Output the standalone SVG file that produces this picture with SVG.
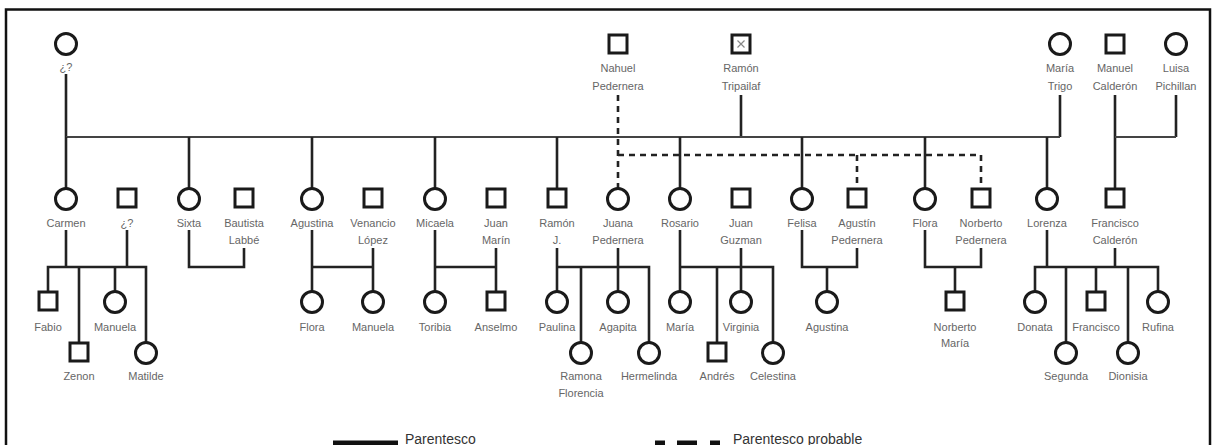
<svg xmlns="http://www.w3.org/2000/svg" width="1214" height="445" viewBox="0 0 1214 445">
<style>
.c{fill:#fff;stroke:#1a1a1a;stroke-width:3}
.s{fill:#fff;stroke:#1a1a1a;stroke-width:3}
.t{font-family:"Liberation Sans",Arial,sans-serif;font-size:11px;fill:#666;text-anchor:middle}
.l{fill:none;stroke:#222;stroke-width:2.6}
.h{fill:none;stroke:#444;stroke-width:2.2}
.d{fill:none;stroke:#222;stroke-width:2.6;stroke-dasharray:6 5}
.lg{font-family:"Liberation Sans",Arial,sans-serif;font-size:14px;fill:#333}
</style>
<rect x="0" y="0" width="1214" height="445" fill="#fff"/>
<path d="M6,450 V9.5 H1210 V450" fill="none" stroke="#111" stroke-width="2.5"/>

<g id="connectors">
  <path class="l" d="M66,74 V137 M1060,95 V137 M741,95 V137 M1115,95 V188 M1176,95 V137"/>
  <path class="h" d="M66,137 H1060 M1115,137 H1176"/>
  <path class="l" d="M66,137 V188 M189,137 V188 M312,137 V188 M435,137 V188 M557,137 V188 M680,137 V188 M802,137 V188 M925,137 V188 M1047,137 V188"/>
  <path class="d" d="M618,95 V188 M618,155 H981 M857,155 V188 M981,155 V188"/>
  <!-- Carmen -->
  <path class="l" d="M66,230 V267 M127,230 V267 M48,291 V267 H146 V342 M79,267 V342 M115,267 V291"/>
  <!-- Sixta -->
  <path class="l" d="M189,230 V267 H244 V248"/>
  <!-- Agustina -->
  <path class="l" d="M312,230 V291 M373,248 V291 M312,267 H373"/>
  <!-- Micaela -->
  <path class="l" d="M435,230 V291 M496,248 V291 M435,267 H496"/>
  <!-- Ramon J / Juana -->
  <path class="l" d="M557,248 V291 M618,248 V291 M557,267 H649 V342 M581,267 V342"/>
  <!-- Rosario / Juan Guzman -->
  <path class="l" d="M680,230 V291 M741,248 V291 M680,267 H773 V342 M717,267 V342"/>
  <!-- Felisa / Agustin -->
  <path class="l" d="M802,230 V267 H857 V248 M827,267 V291"/>
  <!-- Flora / Norberto -->
  <path class="l" d="M925,230 V267 H981 V248 M955,267 V291"/>
  <!-- Lorenza / Francisco -->
  <path class="l" d="M1047,230 V267 M1115,248 V267 M1035,291 V267 H1158 V291 M1066,267 V342 M1096,267 V291 M1128,267 V342"/>
</g>

<!-- Row 1 -->
<g id="n-desconocida"><circle class="c" cx="66" cy="44" r="10.5"/><text class="t" x="66" y="71">¿?</text></g>
<g id="n-nahuel"><rect class="s" x="609" y="35" width="18" height="18"/><text class="t" x="618" y="72">Nahuel</text><text class="t" x="618" y="90">Pedernera</text></g>
<g id="n-ramon-tripailaf"><rect class="s" x="732" y="35" width="18" height="18"/><path d="M737.5,40.5 L744.5,47.5 M744.5,40.5 L737.5,47.5" stroke="#888" stroke-width="1.2"/><text class="t" x="741" y="72">Ramón</text><text class="t" x="741" y="90">Tripailaf</text></g>
<g id="n-maria-trigo"><circle class="c" cx="1060" cy="44" r="10.5"/><text class="t" x="1060" y="72">María</text><text class="t" x="1060" y="90">Trigo</text></g>
<g id="n-manuel"><rect class="s" x="1106" y="35" width="18" height="18"/><text class="t" x="1115" y="72">Manuel</text><text class="t" x="1115" y="90">Calderón</text></g>
<g id="n-luisa"><circle class="c" cx="1176" cy="44" r="10.5"/><text class="t" x="1176" y="72">Luisa</text><text class="t" x="1176" y="90">Pichillan</text></g>

<!-- Row 2 -->
<g id="n-carmen"><circle class="c" cx="66" cy="199" r="10.5"/><text class="t" x="66" y="227">Carmen</text></g>
<g id="n-desconocido2"><rect class="s" x="118" y="189" width="18" height="18"/><text class="t" x="127" y="227">¿?</text></g>
<g id="n-sixta"><circle class="c" cx="189" cy="199" r="10.5"/><text class="t" x="189" y="227">Sixta</text></g>
<g id="n-bautista"><rect class="s" x="235" y="189" width="18" height="18"/><text class="t" x="244" y="227">Bautista</text><text class="t" x="244" y="244">Labbé</text></g>
<g id="n-agustina"><circle class="c" cx="312" cy="199" r="10.5"/><text class="t" x="312" y="227">Agustina</text></g>
<g id="n-venancio"><rect class="s" x="364" y="189" width="18" height="18"/><text class="t" x="373" y="227">Venancio</text><text class="t" x="373" y="244">López</text></g>
<g id="n-micaela"><circle class="c" cx="435" cy="199" r="10.5"/><text class="t" x="435" y="227">Micaela</text></g>
<g id="n-juan-marin"><rect class="s" x="487" y="189" width="18" height="18"/><text class="t" x="496" y="227">Juan</text><text class="t" x="496" y="244">Marín</text></g>
<g id="n-ramon-j"><rect class="s" x="548" y="189" width="18" height="18"/><text class="t" x="557" y="227">Ramón</text><text class="t" x="557" y="244">J.</text></g>
<g id="n-juana"><circle class="c" cx="618" cy="199" r="10.5"/><text class="t" x="618" y="227">Juana</text><text class="t" x="618" y="244">Pedernera</text></g>
<g id="n-rosario"><circle class="c" cx="680" cy="199" r="10.5"/><text class="t" x="680" y="227">Rosario</text></g>
<g id="n-juan-guzman"><rect class="s" x="732" y="189" width="18" height="18"/><text class="t" x="741" y="227">Juan</text><text class="t" x="741" y="244">Guzman</text></g>
<g id="n-felisa"><circle class="c" cx="802" cy="199" r="10.5"/><text class="t" x="802" y="227">Felisa</text></g>
<g id="n-agustin"><rect class="s" x="848" y="189" width="18" height="18"/><text class="t" x="857" y="227">Agustín</text><text class="t" x="857" y="244">Pedernera</text></g>
<g id="n-flora"><circle class="c" cx="925" cy="199" r="10.5"/><text class="t" x="925" y="227">Flora</text></g>
<g id="n-norberto"><rect class="s" x="972" y="189" width="18" height="18"/><text class="t" x="981" y="227">Norberto</text><text class="t" x="981" y="244">Pedernera</text></g>
<g id="n-lorenza"><circle class="c" cx="1047" cy="199" r="10.5"/><text class="t" x="1047" y="227">Lorenza</text></g>
<g id="n-francisco-calderon"><rect class="s" x="1106" y="189" width="18" height="18"/><text class="t" x="1115" y="227">Francisco</text><text class="t" x="1115" y="244">Calderón</text></g>

<!-- Row 3 -->
<g id="n-fabio"><rect class="s" x="39" y="292" width="18" height="18"/><text class="t" x="48" y="331">Fabio</text></g>
<g id="n-manuela1"><circle class="c" cx="115" cy="302" r="10.5"/><text class="t" x="115" y="331">Manuela</text></g>
<g id="n-flora2"><circle class="c" cx="312" cy="302" r="10.5"/><text class="t" x="312" y="331">Flora</text></g>
<g id="n-manuela2"><circle class="c" cx="373" cy="302" r="10.5"/><text class="t" x="373" y="331">Manuela</text></g>
<g id="n-toribia"><circle class="c" cx="435" cy="302" r="10.5"/><text class="t" x="435" y="331">Toribia</text></g>
<g id="n-anselmo"><rect class="s" x="487" y="292" width="18" height="18"/><text class="t" x="496" y="331">Anselmo</text></g>
<g id="n-paulina"><circle class="c" cx="557" cy="302" r="10.5"/><text class="t" x="557" y="331">Paulina</text></g>
<g id="n-agapita"><circle class="c" cx="618" cy="302" r="10.5"/><text class="t" x="618" y="331">Agapita</text></g>
<g id="n-maria"><circle class="c" cx="680" cy="302" r="10.5"/><text class="t" x="680" y="331">María</text></g>
<g id="n-virginia"><circle class="c" cx="741" cy="302" r="10.5"/><text class="t" x="741" y="331">Virginia</text></g>
<g id="n-agustina2"><circle class="c" cx="827" cy="302" r="10.5"/><text class="t" x="827" y="331">Agustina</text></g>
<g id="n-norberto-maria"><rect class="s" x="946" y="292" width="18" height="18"/><text class="t" x="955" y="331">Norberto</text><text class="t" x="955" y="347">María</text></g>
<g id="n-donata"><circle class="c" cx="1035" cy="302" r="10.5"/><text class="t" x="1035" y="331">Donata</text></g>
<g id="n-francisco2"><rect class="s" x="1087" y="292" width="18" height="18"/><text class="t" x="1096" y="331">Francisco</text></g>
<g id="n-rufina"><circle class="c" cx="1158" cy="302" r="10.5"/><text class="t" x="1158" y="331">Rufina</text></g>

<!-- Row 4 -->
<g id="n-zenon"><rect class="s" x="70" y="343" width="18" height="18"/><text class="t" x="79" y="380">Zenon</text></g>
<g id="n-matilde"><circle class="c" cx="146" cy="353" r="10.5"/><text class="t" x="146" y="380">Matilde</text></g>
<g id="n-ramona"><circle class="c" cx="581" cy="353" r="10.5"/><text class="t" x="581" y="380">Ramona</text><text class="t" x="581" y="397">Florencia</text></g>
<g id="n-hermelinda"><circle class="c" cx="649" cy="353" r="10.5"/><text class="t" x="649" y="380">Hermelinda</text></g>
<g id="n-andres"><rect class="s" x="708" y="343" width="18" height="18"/><text class="t" x="717" y="380">Andrés</text></g>
<g id="n-celestina"><circle class="c" cx="773" cy="353" r="10.5"/><text class="t" x="773" y="380">Celestina</text></g>
<g id="n-segunda"><circle class="c" cx="1066" cy="353" r="10.5"/><text class="t" x="1066" y="380">Segunda</text></g>
<g id="n-dionisia"><circle class="c" cx="1128" cy="353" r="10.5"/><text class="t" x="1128" y="380">Dionisia</text></g>

<g id="legend">
  <line x1="333" y1="443" x2="398" y2="443" stroke="#111" stroke-width="5"/>
  <text class="lg" x="405" y="444">Parentesco</text>
  <line x1="655" y1="443" x2="720" y2="443" stroke="#111" stroke-width="5" stroke-dasharray="10 12 20 13 10"/>
  <text class="lg" x="733" y="444">Parentesco probable</text>
</g>
</svg>
